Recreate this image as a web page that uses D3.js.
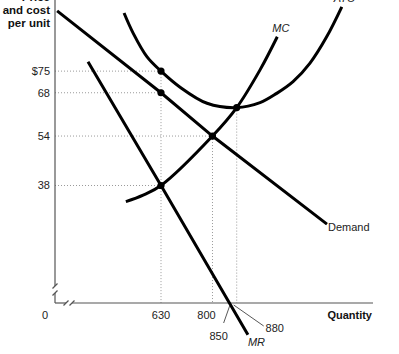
<!DOCTYPE html>
<html>
<head>
<meta charset="utf-8">
<script src="https://cdn.jsdelivr.net/npm/d3@7"></script>
<style>
  body { margin: 0; background: #fff; }
  svg { display: block; font-family: Arial, "Liberation Sans", Helvetica, sans-serif; }
</style>
</head>
<body>
<div id="chart"></div>
<script>
// Values (quantity, price per unit)
const priceTicks = [75, 68, 54, 38];
const priceLabels = ['$75', '68', '54', '38'];
const quantityTicks = [630, 800, 850, 880];

const demandQ = [287, 630, 800, 1178];
const demandP = [94.5, 68, 54, 25.5];

const mrQ = [389, 630, 917];
const mrP = [78, 38, -10.3];

const mcQ = [514, 571, 630, 800, 880, 957, 1014];
const mcP = [32.8, 34.9, 38, 54, 63.2, 75.4, 86.1];

const atcQ = [508, 538, 584, 630, 693, 782, 880, 957, 1012, 1066, 1122, 1177, 1227];
const atcP = [93.8, 87.3, 79.6, 75, 69.8, 64.6, 63.2, 64.8, 67.8, 71.6, 77.6, 86.1, 95.8];

// highlighted points
const dotQ = [630, 630, 630, 800, 880];
const dotP = [75, 68, 38, 54, 63.2];

const width = 399, height = 354;

const svg = d3.select('#chart')
    .append('svg')
    .attr('width', width)
    .attr('height', height)
    .attr('viewBox', [0, 0, width, height]);

svg.append('rect').attr('width', width).attr('height', height).attr('fill', '#fff');

const x = d3.scaleLinear().domain([280, 1330]).range([55, 373]);
const y = d3.scaleLinear().domain([0, 98]).range([303, 0]);

const x0 = x.range()[0], y0 = y.range()[0];
const zip = (qs, ps) => qs.map((q, i) => [q, ps[i]]);

// Dotted guides
const guides = svg.append('g')
    .attr('stroke', '#9a9a9a')
    .attr('stroke-width', 1)
    .attr('stroke-dasharray', '1,2')
    .attr('fill', 'none');

// horizontal guides go to the dot at that price
priceTicks.forEach(p => {
    const i = dotP.indexOf(p);
    guides.append('line')
        .attr('x1', x0).attr('x2', x(dotQ[i]))
        .attr('y1', y(p)).attr('y2', y(p));
});
// vertical guides from the top-most dot at each quantity
[630, 800, 880].forEach(q => {
    const top = d3.max(dotP.filter((p, i) => dotQ[i] === q));
    guides.append('line')
        .attr('x1', x(q)).attr('x2', x(q))
        .attr('y1', y(top)).attr('y2', y0);
});

// Axes with break marks
const axis = svg.append('g').attr('stroke', '#555').attr('stroke-width', 1.2).attr('fill', 'none');
axis.append('line').attr('x1', x0).attr('x2', x0).attr('y1', 0).attr('y2', y0 - 17);
axis.append('line').attr('x1', x0).attr('x2', x0).attr('y1', y0 - 10).attr('y2', y0);
axis.append('line').attr('x1', x0).attr('x2', x0 + 11).attr('y1', y0).attr('y2', y0);
axis.append('line').attr('x1', x0 + 17).attr('x2', x.range()[1]).attr('y1', y0).attr('y2', y0);
[y0 - 17, y0 - 10].forEach(v => {
    axis.append('line').attr('x1', x0 - 2.5).attr('x2', x0 + 2.5).attr('y1', v + 2.5).attr('y2', v - 2.5);
});
[x0 + 11, x0 + 17].forEach(v => {
    axis.append('line').attr('x1', v - 2.5).attr('x2', v + 2.5).attr('y1', y0 + 2.5).attr('y2', y0 - 2.5);
});

// Curves
const line = d3.line().x(d => x(d[0])).y(d => y(d[1]));
const smooth = d3.line().x(d => x(d[0])).y(d => y(d[1])).curve(d3.curveCatmullRom.alpha(0.5));

const curves = svg.append('g')
    .attr('fill', 'none')
    .attr('stroke', '#000')
    .attr('stroke-width', 3)
    .attr('stroke-linecap', 'butt');

curves.append('path').attr('d', line(zip(demandQ, demandP)));
curves.append('path').attr('d', line(zip(mrQ, mrP)));
curves.append('path').attr('d', smooth(zip(mcQ, mcP)));
curves.append('path').attr('d', smooth(zip(atcQ, atcP)));

// Dots
svg.append('g')
    .selectAll('circle')
    .data(zip(dotQ, dotP))
    .join('circle')
    .attr('cx', d => x(d[0]))
    .attr('cy', d => y(d[1]))
    .attr('r', 3.6)
    .attr('fill', '#000');

// Price tick labels
svg.append('g')
    .selectAll('text')
    .data(priceTicks)
    .join('text')
    .attr('x', 50)
    .attr('y', d => y(d))
    .attr('dy', '0.35em')
    .attr('text-anchor', 'end')
    .attr('font-size', 11)
    .attr('fill', '#222')
    .text((d, i) => priceLabels[i]);

// Y axis title
const yTitle = svg.append('text')
    .attr('text-anchor', 'end')
    .attr('font-size', 11.5)
    .attr('font-weight', 'bold')
    .attr('fill', '#111');
['Price', 'and cost', 'per unit'].forEach((t, i) => {
    yTitle.append('tspan').attr('x', 50).attr('y', 1 + i * 13).text(t);
});

// Quantity tick labels
const qLabel = svg.append('g').attr('font-size', 11).attr('fill', '#222').attr('text-anchor', 'middle');
qLabel.append('text').attr('x', x0 - 10).attr('y', y0 + 16).text('0');
qLabel.append('text').attr('x', x(quantityTicks[0])).attr('y', y0 + 16).text(quantityTicks[0]);
qLabel.append('text').attr('x', x(quantityTicks[1]) - 6).attr('y', y0 + 16).text(quantityTicks[1]);
qLabel.append('text').attr('x', x(quantityTicks[2]) - 9).attr('y', y0 + 37).text(quantityTicks[2]);
qLabel.append('text').attr('x', x(quantityTicks[3]) + 38).attr('y', y0 + 29).text(quantityTicks[3]);

// Leader lines for 850 and 880
const leaders = svg.append('g').attr('stroke', '#444').attr('stroke-width', 0.9);
leaders.append('line')
    .attr('x1', x(quantityTicks[2]) + 2).attr('y1', y0 + 3)
    .attr('x2', x(quantityTicks[2]) - 4).attr('y2', y0 + 20);
leaders.append('line')
    .attr('x1', x(quantityTicks[3]) - 3).attr('y1', y0 + 2)
    .attr('x2', x(quantityTicks[3]) + 27).attr('y2', y0 + 23);

svg.append('text')
    .attr('x', 372).attr('y', y0 + 16)
    .attr('text-anchor', 'end')
    .attr('font-size', 11)
    .attr('font-weight', 'bold')
    .attr('fill', '#111')
    .text('Quantity');

// Curve labels
const lastOf = (qs, ps) => [qs[qs.length - 1], ps[ps.length - 1]];
const dEnd = lastOf(demandQ, demandP);
svg.append('text')
    .attr('x', x(dEnd[0]) + 1).attr('y', y(dEnd[1]) + 7)
    .attr('font-size', 11).attr('fill', '#222')
    .text('Demand');

const mrEnd = lastOf(mrQ, mrP);
svg.append('text')
    .attr('x', x(mrEnd[0])).attr('y', y(mrEnd[1]) + 11)
    .attr('font-size', 11).attr('font-style', 'italic').attr('fill', '#222')
    .text('MR');

const mcEnd = lastOf(mcQ, mcP);
svg.append('text')
    .attr('x', x(mcEnd[0]) - 5).attr('y', y(mcEnd[1]) - 5)
    .attr('font-size', 11).attr('font-style', 'italic').attr('fill', '#222')
    .text('MC');

const atcEnd = lastOf(atcQ, atcP);
svg.append('text')
    .attr('x', x(atcEnd[0]) - 8).attr('y', y(atcEnd[1]) - 5)
    .attr('font-size', 11).attr('font-style', 'italic').attr('fill', '#222')
    .text('ATC');
</script>
</body>
</html>
